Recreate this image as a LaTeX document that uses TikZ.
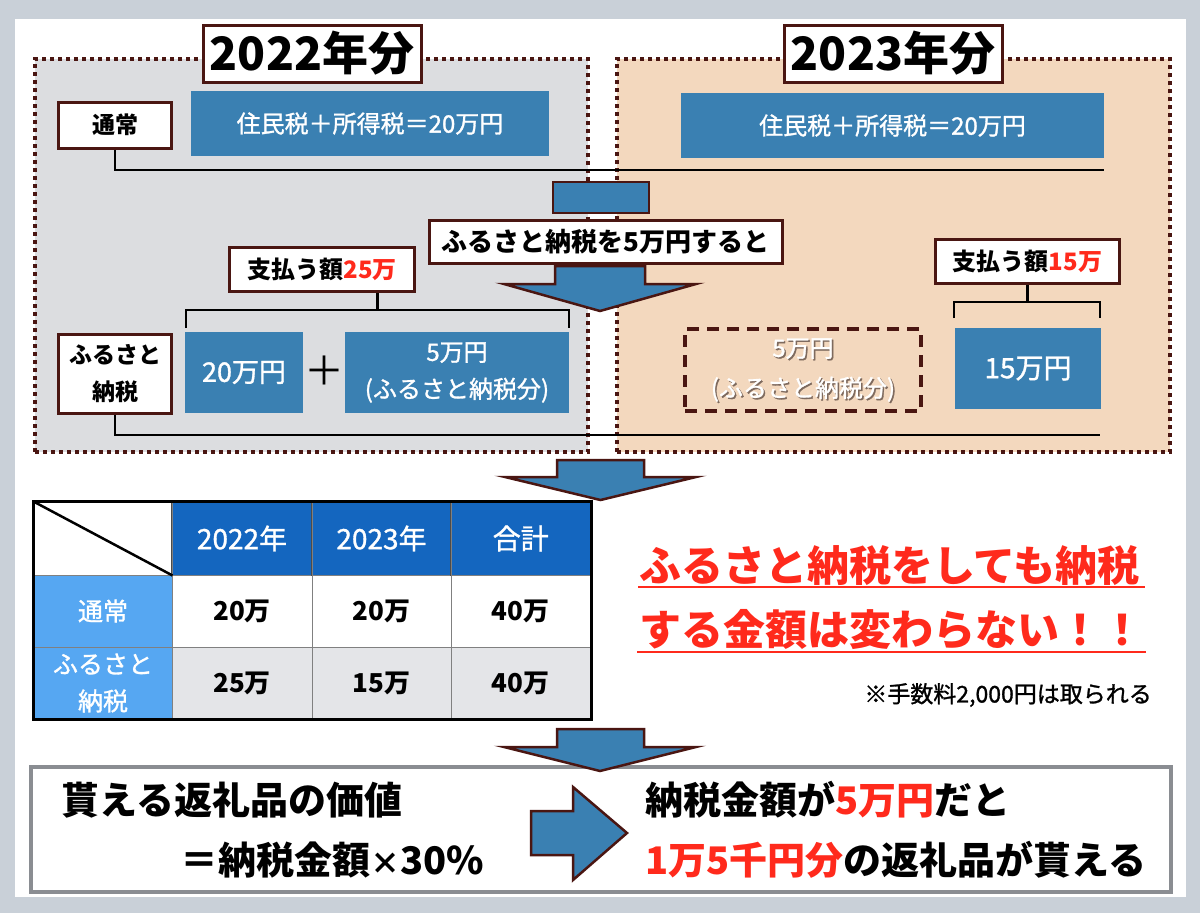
\documentclass[tikz,border=0pt]{standalone}
\usepackage{fontspec}
\setmainfont{Noto Sans CJK JP}
\newfontfamily\medfam{Noto Sans CJK JP}[BoldFont={Noto Sans CJK JP}, BoldFeatures={FakeBold=1.2}]
\newcommand{\medf}{\medfam\bfseries}
\definecolor{bgc}{HTML}{C9D0D8}
\definecolor{panelL}{HTML}{DCDDE0}
\definecolor{panelR}{HTML}{F3D8BE}
\definecolor{dbrown}{HTML}{4A1612}
\definecolor{steel}{HTML}{3A80B2}
\definecolor{hdr}{HTML}{1466BF}
\definecolor{rowh}{HTML}{56A7F2}
\definecolor{rowg}{HTML}{E4E5E8}
\definecolor{redt}{HTML}{FF2A1C}
\definecolor{frame}{HTML}{8A8D92}
\definecolor{shade}{HTML}{7E6A5E}
\newcommand{\fs}[1]{\fontsize{#1}{#1}\selectfont}
\tikzset{
  wbox/.style={draw=dbrown, line width=3pt, fill=white, inner sep=0pt, align=center, font=\bfseries\fs{23}},
  bbox/.style={fill=steel, text=white, inner sep=0pt, align=center, font=\medf\fs{24}},
  panel/.style={draw=dbrown, line width=3.5pt, dash pattern=on 4pt off 4pt, inner sep=0pt},
  conn/.style={line width=2.5pt, black},
  arr/.style={fill=steel, draw=dbrown, line width=2.5pt, line join=miter},
  cell/.style={draw=gray, line width=1pt, inner sep=0pt, align=center},
  txt/.style={inner sep=0pt, anchor=west}
}
\begin{document}
\begin{tikzpicture}[x=1pt,y=-1pt]
\useasboundingbox (0,0) rectangle (1200,913);
\fill[bgc] (0,0) rectangle (1200,913);
\fill[white] (14.5,19) rectangle (1186,897);
% panels
\node[panel, fill=panelL, minimum width=553, minimum height=393] (pL) at (311.5,255.5) {};
\node[panel, fill=panelR, minimum width=553, minimum height=393] (pR) at (893.5,255.5) {};
% titles
\node[wbox, minimum width=218, minimum height=57, font=\bfseries\fs{46}] (t22) at (312,53.5) {2022年分};
\node[wbox, minimum width=218, minimum height=57, font=\bfseries\fs{46}] (t23) at (893,53.5) {2023年分};
% top row
\node[wbox, minimum width=113, minimum height=46] (tsujo) at (115,125) {通常};
\node[bbox, minimum width=358, minimum height=65] (blue22) at (370,123.5) {住民税＋所得税＝20万円};
\node[bbox, minimum width=423, minimum height=65] (blue23) at (892.5,125.5) {住民税＋所得税＝20万円};
\coordinate (e1) at (1104,170);
\draw[conn] (tsujo.south) |- (e1);
% bottom row lines
\node[wbox, minimum width=113, minimum height=79, font=\bfseries\fontsize{23}{37}\selectfont] (furu) at (115,373.5) {ふるさと\\納税};
\coordinate (e2) at (1100,435);
\draw[conn] (furu.south) |- (e2);
% middle arrow
\node[fill=steel, draw=dbrown, line width=2.5pt, minimum width=96, minimum height=31, inner sep=0pt] (shaft) at (601,197.5) {};
\node[wbox, minimum width=353, minimum height=43, font=\bfseries\fs{26}] (mid) at (605.5,241.5) {ふるさと納税を5万円すると};
\draw[arr] (555,266) -- (645,266) -- (645,284) -- (696,284) -- (600,311) -- (504,284) -- (555,284) -- cycle;
% 2022 payments
\node[wbox, minimum width=185, minimum height=44, font=\bfseries\fs{24}] (pay25) at (322,269) {支払う額\textcolor{redt}{25万}};
\coordinate (bl) at (186,328);
\coordinate (br) at (569,328);
\coordinate (bm) at (377.5,310);
\draw[conn] (bl) |- (bm) -| (br);
\draw[conn] (bm) -- (bm |- pay25.south);
\node[bbox, minimum width=118.5, minimum height=81, font=\medf\fs{27}] (b20) at (244,372.5) {20万円};
\node[inner sep=0pt, font=\fs{40}] (plus) at (324.5,371) {＋};
\node[bbox, minimum width=224.5, minimum height=81, font=\medf\fontsize{24}{37}\selectfont] (b5) at (457,372.5) {5万円\\(ふるさと納税分)};
% 2023 payments
\node[wbox, minimum width=184, minimum height=44, font=\bfseries\fs{24}] (pay15) at (1027.6,261) {支払う額\textcolor{redt}{15万}};
\coordinate (cl) at (954,318);
\coordinate (cr) at (1100,318);
\coordinate (cm) at (1027.6,302);
\draw[conn] (cl) |- (cm) -| (cr);
\draw[conn] (cm) -- (pay15.south);
\node[draw=dbrown, line width=4pt, dash pattern=on 12pt off 8pt, minimum width=236, minimum height=82, inner sep=0pt] (dash5) at (803,370) {};
\node[inner sep=0pt, align=center, text=shade, font=\medf\fontsize{24}{40}\selectfont] (dash5s) at (804.5,371.5) {5万円\\(ふるさと納税分)};
\node[inner sep=0pt, align=center, text=white, font=\medf\fontsize{24}{40}\selectfont] (dash5t) at (803,370) {5万円\\(ふるさと納税分)};
\node[bbox, minimum width=145.6, minimum height=81, font=\medf\fs{28}] (b15) at (1028,368.5) {15万円};
% arrow to table
\draw[arr] (557,460) -- (644,460) -- (644,477) -- (696,477) -- (600.5,500) -- (505,477) -- (557,477) -- cycle;
% table
\node[cell, fill=white, minimum width=138, minimum height=73] (c00) at (103,538.5) {};
\node[cell, fill=hdr, text=white, minimum width=140, minimum height=73, font=\medf\fs{28}] (c01) at (242,538.5) {2022年};
\node[cell, fill=hdr, text=white, minimum width=139, minimum height=73, font=\medf\fs{28}] (c02) at (381.5,538.5) {2023年};
\node[cell, fill=hdr, text=white, minimum width=139.5, minimum height=73, font=\medf\fs{28}] (c03) at (520.75,538.5) {合計};
\node[cell, fill=rowh, text=white, minimum width=138, minimum height=72, font=\medf\fs{25}] (c10) at (103,611) {通常};
\node[cell, fill=white, minimum width=140, minimum height=72, font=\bfseries\fs{26}] (c11) at (242,611) {20万};
\node[cell, fill=white, minimum width=139, minimum height=72, font=\bfseries\fs{26}] (c12) at (381.5,611) {20万};
\node[cell, fill=white, minimum width=139.5, minimum height=72, font=\bfseries\fs{26}] (c13) at (520.75,611) {40万};
\node[cell, fill=rowh, text=white, minimum width=138, minimum height=72, font=\medf\fontsize{25}{37}\selectfont] (c20) at (103,683) {ふるさと\\納税};
\node[cell, fill=rowg, minimum width=140, minimum height=72, font=\bfseries\fs{26}] (c21) at (242,683) {25万};
\node[cell, fill=rowg, minimum width=139, minimum height=72, font=\bfseries\fs{26}] (c22) at (381.5,683) {15万};
\node[cell, fill=rowg, minimum width=139.5, minimum height=72, font=\bfseries\fs{26}] (c23) at (520.75,683) {40万};
\draw[line width=1pt, black!70] (c01.north west) -- (c01.south west) (c02.north west) -- (c02.south west) (c03.north west) -- (c03.south west);
\draw[line width=2.5pt, black] (c00.north west) -- (c00.south east);
\draw[line width=3pt, black] (c00.north west) rectangle (c23.south east);
% red message
\node[txt, text=redt, font=\bfseries\fs{42}] (red1) at (639,566) {ふるさと納税をしても納税};
\node[txt, text=redt, font=\bfseries\fs{42}] (red2) at (639,630) {する金額は変わらない！！};
\draw[redt, line width=2pt] (638,587) -- (1145,587);
\draw[redt, line width=2pt] (637,652) -- (1146,652);
\node[inner sep=0pt, anchor=east, font=\medf\fs{23}] (note) at (1152,695) {※手数料2,000円は取られる};
% bottom box
\node[draw=frame, line width=4pt, fill=white, minimum width=1140, minimum height=125, inner sep=0pt] (bottom) at (600.6,829.5) {};
\draw[arr] (557,729) -- (644,729) -- (644,747) -- (696,747) -- (600,771) -- (504,747) -- (557,747) -- cycle;
\draw[arr] (531,811) -- (573,811) -- (573,787) -- (627,833) -- (573,880) -- (573,855) -- (531,855) -- cycle;
\node[txt, font=\bfseries\fs{38}] (l1) at (61,800) {貰える返礼品の価値};
\node[txt, font=\bfseries\fs{38}] (l2) at (180,860) {＝納税金額{\fs{30}×}30\%};
\node[txt, font=\bfseries\fs{38}] (r1) at (645,800) {納税金額が\textcolor{redt}{5万円}だと};
\node[txt, font=\bfseries\fs{38}] (r2) at (645,860) {\textcolor{redt}{1万5千円分}の返礼品が貰える};
\end{tikzpicture}
\end{document}
